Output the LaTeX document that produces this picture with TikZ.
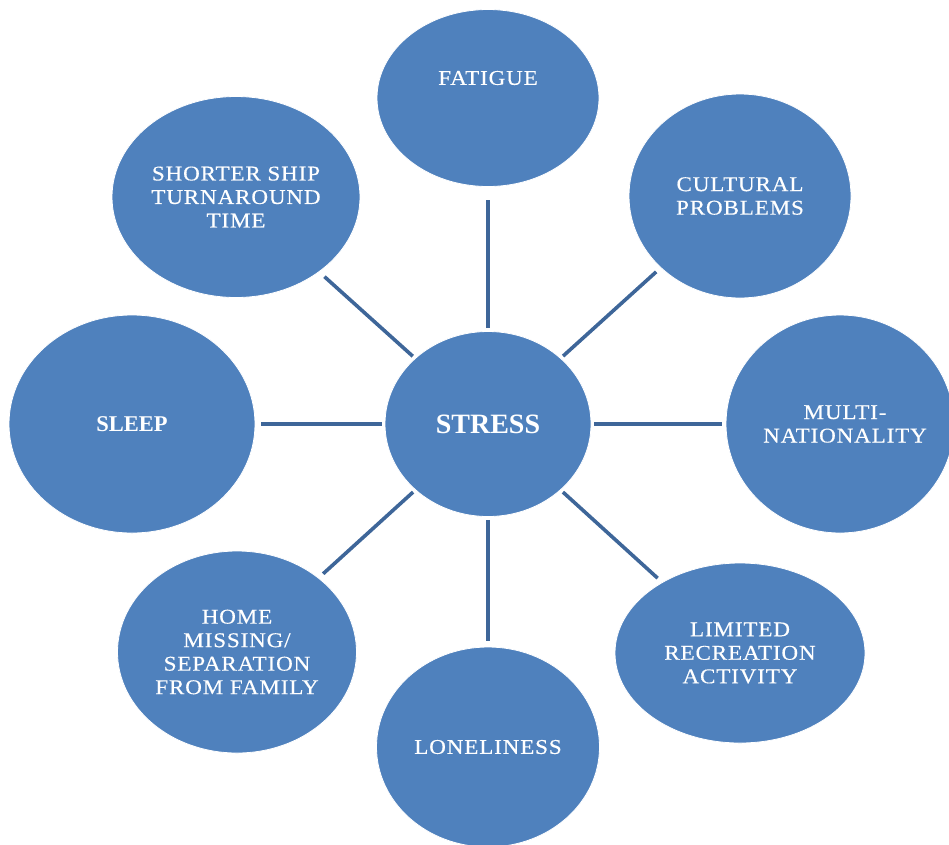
\documentclass[tikz,border=0pt]{standalone}
\usepackage{fontspec}
\setmainfont{Liberation Serif}
\newfontfamily\spaced[LetterSpace=4, FakeStretch=1.1, FakeBold=0.4]{Liberation Serif}
\usetikzlibrary{shapes.geometric}
\definecolor{bubblefill}{HTML}{4F81BD}
\definecolor{spoke}{HTML}{3E6699}
\tikzset{
  bubble/.style={ellipse, fill=bubblefill, draw=white, line width=0.8pt,
    inner sep=0pt, text=white, align=center,
    font=\spaced\fontsize{21}{23.5}\selectfont},
  boldbubble/.style={bubble, font=\bfseries\fontsize{#1}{#1}\selectfont},
  label text/.style={text=white, align=center, inner sep=0pt,
    font=\spaced\fontsize{21}{23.5}\selectfont},
  spokeline/.style={draw=spoke, line width=3.6pt, shorten <=3pt, shorten >=#1},
  spokeline/.default=6pt
}
\begin{document}
\begin{tikzpicture}[x=1pt,y=-1pt]
  \useasboundingbox (0,0) rectangle (949,844);

  % outer topics
  \node[bubble, minimum width=222pt, minimum height=177pt] (fatigue) at (488,98) {};
  \node[label text] (fatiguetext) at (488,78) {FATIGUE};
  \node[bubble, minimum width=222pt, minimum height=204pt] (cultural) at (740,196) {CULTURAL\\PROBLEMS};
  \node[bubble, minimum width=228pt, minimum height=218pt] (multi) at (840,424) {};
  \node[label text] (multitext) at (845,424) {MULTI-\\NATIONALITY};
  \node[bubble, minimum width=250pt, minimum height=180pt] (limited) at (740,653) {LIMITED\\RECREATION\\ACTIVITY};
  \node[bubble, minimum width=223pt, minimum height=200pt] (lonely) at (488,747) {LONELINESS};
  \node[bubble, minimum width=239pt, minimum height=202pt] (home) at (237,652) {HOME\\MISSING/\\SEPARATION\\FROM FAMILY};
  \node[boldbubble=22.5, minimum width=246pt, minimum height=218pt] (sleep) at (132,424) {SLEEP};
  \node[bubble, minimum width=248pt, minimum height=201pt] (shorter) at (236,197) {SHORTER SHIP\\TURNAROUND\\TIME};

  % central topic
  \node[boldbubble=28, minimum width=206pt, minimum height=185pt] (stress) at (488,424) {STRESS};

  % spokes from the centre
  \draw[spokeline=13pt] (stress) -- (fatigue);
  \draw[spokeline] (stress) -- (cultural);
  \draw[spokeline=4pt] (stress) -- (multi);
  \draw[spokeline] (stress) -- (limited);
  \draw[spokeline] (stress) -- (lonely);
  \draw[spokeline] (stress) -- (home);
  \draw[spokeline] (stress) -- (sleep);
  \draw[spokeline=7pt] (stress) -- (shorter);
\end{tikzpicture}
\end{document}
